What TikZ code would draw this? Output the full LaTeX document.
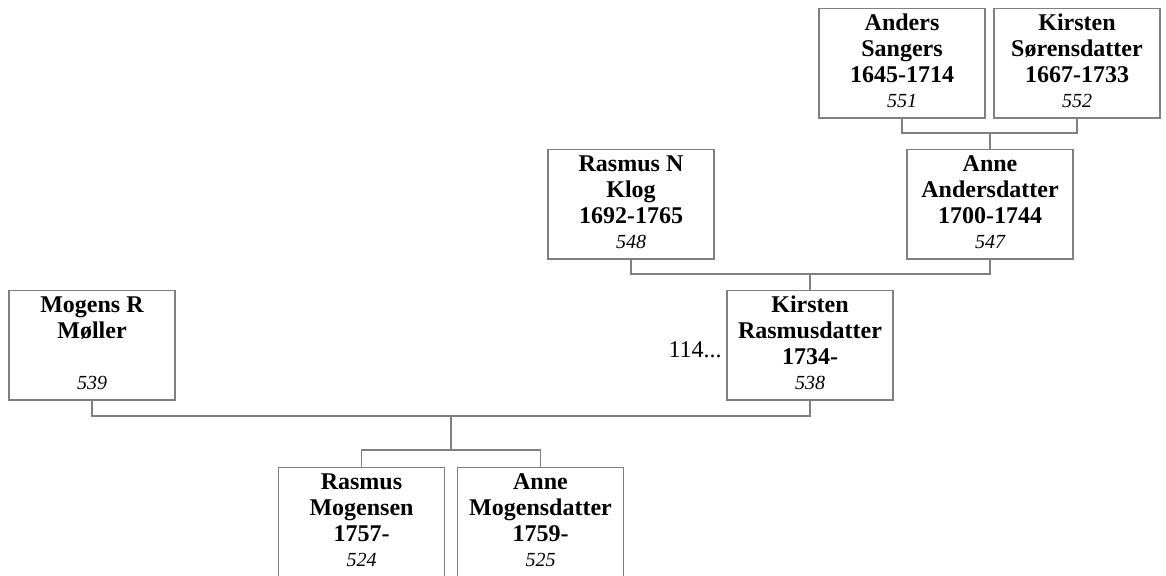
\documentclass[tikz,border=0pt]{standalone}
\usepackage{fontspec}
\setmainfont{Liberation Serif}
\definecolor{lg}{RGB}{128,128,128}
% #1 id, #2 centre x, #3 top y, #4 baseline offset of last name line, #5 names, #6 number
\newcommand\pbox[6]{%
  \node[box, anchor=north] (#1) at (#2,#3) {};
  \node[nm] (#1t) at (#2,#3+#4) {#5};
  \node[num] (#1n) at (#2,#3+99) {#6};
}
\begin{document}
\begin{tikzpicture}[x=0.75pt,y=-0.75pt,
  box/.style={draw=lg, line width=1pt, minimum width=124.5pt, minimum height=82pt, inner sep=0pt},
  nm/.style={anchor=base, align=center, inner sep=0pt, font=\fontsize{18}{19.5}\selectfont\bfseries},
  num/.style={anchor=base, inner sep=0pt, font=\fontsize{15}{18}\selectfont\itshape},
  conn/.style={draw=lg, line width=1pt},
  note/.style={anchor=base east, inner sep=0pt, font=\fontsize{18}{19.5}\selectfont}]
\clip (0,0) rectangle (1166,575);
\pbox{b551}{902}{8}{74}{Anders\\Sangers\\1645-1714}{551}
\pbox{b552}{1077}{8}{74}{Kirsten\\Sørensdatter\\1667-1733}{552}
\pbox{b548}{631}{149}{74}{Rasmus N\\Klog\\1692-1765}{548}
\pbox{b547}{990}{149}{74}{Anne\\Andersdatter\\1700-1744}{547}
\pbox{b538}{810}{290}{74}{Kirsten\\Rasmusdatter\\1734-}{538}
\pbox{b539}{92}{290}{48}{Mogens R\\Møller}{539}
\pbox{b524}{361.5}{467}{74}{Rasmus\\Mogensen\\1757-}{524}
\pbox{b525}{540.5}{467}{74}{Anne\\Mogensdatter\\1759-}{525}
\node[note] (more) at (722,357) {114...};
\coordinate (j1) at (990,133);
\coordinate (j2) at (810,274);
\coordinate (j3) at (451,416);
\coordinate (j4) at (451,450);
\draw[conn] (b551.south) |- (j1) -| (b552.south);
\draw[conn] (j1) -- (b547.north);
\draw[conn] (b548.south) |- (j2) -| (b547.south);
\draw[conn] (j2) -- (b538.north);
\draw[conn] (b539.south) |- (j3) -| (b538.south);
\draw[conn] (j3) -- (j4);
\draw[conn] (b524.north) |- (j4) -| (b525.north);
\end{tikzpicture}
\end{document}
